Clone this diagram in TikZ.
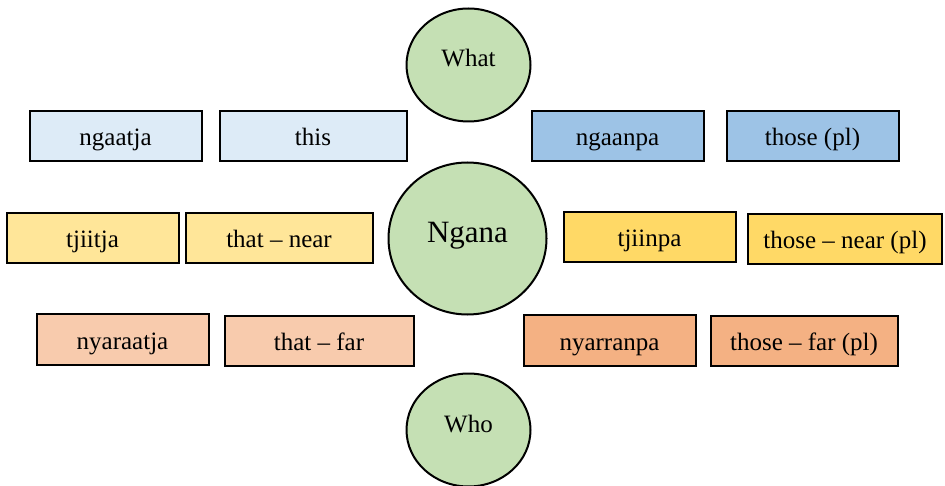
\documentclass[tikz,border=0pt]{standalone}
\usepackage{fontspec}
\setmainfont{Liberation Serif}
\usetikzlibrary{shapes.geometric}

\definecolor{blueLight}{HTML}{DDEBF7}
\definecolor{blueMid}{HTML}{9DC3E6}
\definecolor{yellowLight}{HTML}{FFE699}
\definecolor{yellowMid}{HTML}{FFD966}
\definecolor{orangeLight}{HTML}{F8CBAD}
\definecolor{orangeMid}{HTML}{F4B183}
\definecolor{greenFill}{HTML}{C5E0B4}

\tikzset{
  wordbox/.style={draw=black, line width=2pt, rectangle, inner sep=0pt,
    minimum height=50pt, text height=22pt, text depth=3pt,
    font=\fontsize{25}{29}\selectfont},
  wordcircle/.style={draw=black, line width=2pt, ellipse, inner sep=0pt,
    fill=greenFill, text height=12pt, text depth=8pt,
    font=\fontsize{25}{29}\selectfont}
}

\begin{document}
\begin{tikzpicture}[x=1pt,y=-1pt]
  \useasboundingbox (0,0) rectangle (945,486);

  % question words and the central word
  \node[wordcircle, minimum width=124pt, minimum height=113pt] (what) at (468.5,65) {What};
  \node[wordcircle, minimum width=158pt, minimum height=152pt,
        text height=16pt, text depth=7pt,
        font=\fontsize{31}{36}\selectfont] (ngana) at (467.5,238.5) {Ngana};
  \node[wordcircle, minimum width=124pt, minimum height=113pt] (who) at (468.5,430) {Who};

  % singular demonstratives (left)
  \node[wordbox, fill=blueLight, minimum width=172pt] (ngaatja) at (115.5,136.5) {ngaatja};
  \node[wordbox, fill=blueLight, minimum width=187pt] (this) at (313,136.5) {this};
  \node[wordbox, fill=yellowLight, minimum width=172pt] (tjiitja) at (92.5,238.5) {tjiitja};
  \node[wordbox, fill=yellowLight, minimum width=187pt] (thatnear) at (279,238.5) {that -- near};
  \node[wordbox, fill=orangeLight, minimum width=172pt] (nyaraatja) at (122.5,339.5) {nyaraatja};
  \node[wordbox, fill=orangeLight, minimum width=189pt] (thatfar) at (319,341) {that -- far};

  % plural demonstratives (right)
  \node[wordbox, fill=blueMid, minimum width=172pt] (ngaanpa) at (617.5,136.5) {ngaanpa};
  \node[wordbox, fill=blueMid, minimum width=172pt] (thosepl) at (812.5,136.5) {those (pl)};
  \node[wordbox, fill=yellowMid, minimum width=172pt] (tjiinpa) at (649.5,237.5) {tjiinpa};
  \node[wordbox, fill=yellowMid, minimum width=194pt] (thosenear) at (845,239) {those -- near (pl)};
  \node[wordbox, fill=orangeMid, minimum width=172pt] (nyarranpa) at (609.5,340.5) {nyarranpa};
  \node[wordbox, fill=orangeMid, minimum width=187pt] (thosefar) at (804,341) {those -- far (pl)};
\end{tikzpicture}
\end{document}
